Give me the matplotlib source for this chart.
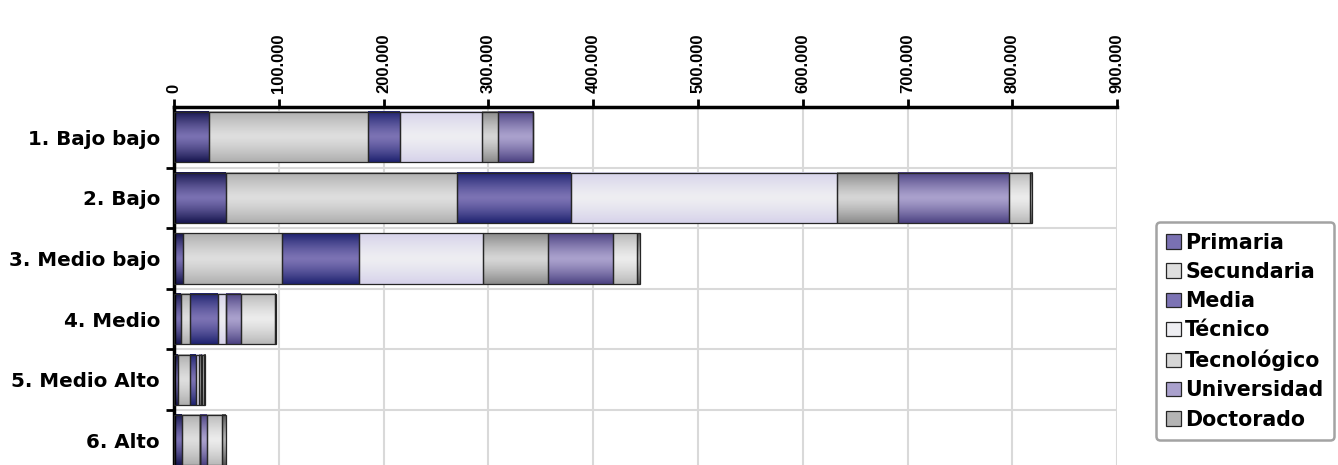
import numpy as np
import matplotlib
matplotlib.use("Agg")
import matplotlib.pyplot as plt
from matplotlib.colors import to_rgb
from matplotlib.patches import Patch
from matplotlib.ticker import FuncFormatter, FixedLocator

# Data
estratos = ["1. Bajo bajo", "2. Bajo", "3. Medio bajo", "4. Medio", "5. Medio Alto", "6. Alto"]
primaria = [33000, 50000, 9000, 7000, 3600, 7800]
secundaria = [152500, 219600, 94000, 8500, 12000, 17200]
media = [30500, 109000, 73500, 26700, 5700, 0]
tecnico = [78000, 253600, 118500, 7200, 2500, 0]
tecnologico = [15000, 59000, 61500, 0, 2300, 0]
universidad = [33500, 105400, 62000, 14400, 500, 6300]
especializacion = [0, 20400, 23500, 33000, 2000, 14700]
doctorado = [0, 2000, 2500, 500, 1300, 3200]

series = [
    ("Primaria", primaria, "#17164f", "#7a71b2", True),
    ("Secundaria", secundaria, "#aeaeae", "#dedede", True),
    ("Media", media, "#1f2370", "#7c73b4", True),
    ("Técnico", tecnico, "#d6d2ea", "#eeeef2", True),
    ("Tecnológico", tecnologico, "#8a8a8a", "#d6d6d6", True),
    ("Universidad", universidad, "#4c4282", "#aaa1cd", True),
    ("Especialización", especializacion, "#b8b8b8", "#ececec", False),
    ("Doctorado", doctorado, "#555555", "#b4b4b4", True),
]


def grad_fill(ax, rect, c_edge, c_mid):
    x, y = rect.get_x(), rect.get_y()
    w, h = rect.get_width(), rect.get_height()
    if w <= 0:
        return
    t = np.linspace(0, 1, 80)
    k = 1 - np.abs(2 * t - 1) ** 1.3
    c0 = np.array(to_rgb(c_edge))
    c1 = np.array(to_rgb(c_mid))
    img = c0 + (c1 - c0) * k[:, None]
    ax.imshow(img[:, None, :], extent=(x, x + w, y + h, y), aspect="auto",
              zorder=2, interpolation="bilinear")


fig = plt.figure(figsize=(13.38, 4.65), dpi=100)
ax = fig.add_axes([0.130, -0.012, 0.705, 0.782])

ypos = np.arange(len(estratos))
left = np.zeros(len(estratos))
handles = []
for name, vals, c_edge, c_mid, in_legend in series:
    vals = np.array(vals, dtype=float)
    bars = ax.barh(ypos, vals, left=left, height=0.83, facecolor="none",
                   edgecolor="#262626", linewidth=0.9, zorder=3)
    for r in bars:
        grad_fill(ax, r, c_edge, c_mid)
    left += vals
    if in_legend:
        handles.append(Patch(facecolor=c_mid, edgecolor="#262626", linewidth=0.9,
                             label=name))

ax.set_xlim(0, 900000)
ax.set_ylim(len(estratos) - 0.5, -0.5)

# x axis on top
ax.xaxis.tick_top()
ax.set_xticks(np.arange(0, 900001, 100000))
ax.xaxis.set_major_formatter(FuncFormatter(lambda v, p: f"{int(v):,}".replace(",", ".")))
ax.tick_params(axis="x", which="major", direction="out", length=6, width=2, pad=4,
               labelrotation=90)
for lbl in ax.get_xticklabels():
    lbl.set_fontfamily("Liberation Sans")
    lbl.set_fontweight("bold")
    lbl.set_fontsize(12)

# y axis
ax.set_yticks(ypos)
ax.set_yticklabels(estratos, fontsize=14.3, fontweight="bold")
ax.yaxis.set_minor_locator(FixedLocator(np.arange(0.5, len(estratos) - 0.5, 1)))
ax.tick_params(axis="y", which="major", length=0, pad=10)
ax.tick_params(axis="y", which="minor", direction="out", length=6, width=2)

ax.grid(axis="x", which="major", color="#d9d9d9", linewidth=1.5, zorder=0)
ax.grid(axis="y", which="minor", color="#d9d9d9", linewidth=1.5, zorder=0)
ax.set_axisbelow(True)

for s in ["bottom", "right"]:
    ax.spines[s].set_visible(False)
ax.spines["top"].set_linewidth(2.5)
ax.spines["left"].set_linewidth(2.5)

# legend leaves out the light-grey 8th series, as in the original
leg = fig.legend(handles=handles, loc="center left", bbox_to_anchor=(0.864, 0.288),
                 prop={"weight": "bold", "size": 14.8}, handlelength=0.72,
                 handleheight=0.72, handletextpad=0.2, labelspacing=0.45,
                 borderpad=0.5, borderaxespad=0, frameon=True, fancybox=True)
leg.get_frame().set_edgecolor("#8c8c8c")
leg.get_frame().set_linewidth(1.8)

fig.savefig("out.png", dpi=100)
